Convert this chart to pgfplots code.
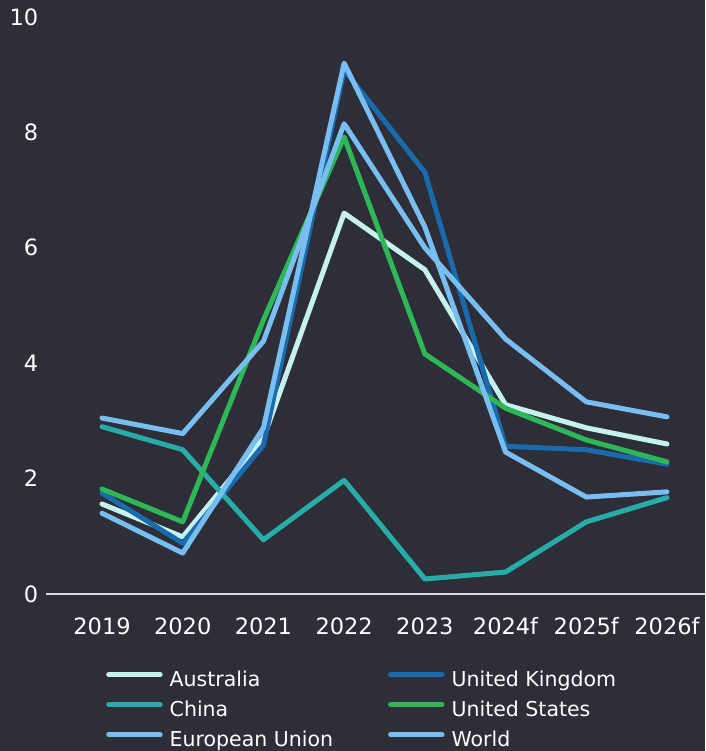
\documentclass[border=0pt]{standalone}
\usepackage{pgfplots}
\pgfplotsset{compat=1.18}
\usepackage{fontspec}
\setmainfont{DejaVu Sans}
\definecolor{bg}{HTML}{2E2E38}
\definecolor{aus}{HTML}{C6F2EE}
\definecolor{chn}{HTML}{27ACAA}
\definecolor{gbr}{HTML}{1A6AAE}
\definecolor{usa}{HTML}{2DB757}
\definecolor{eu}{HTML}{78BEF0}
\definecolor{wld}{HTML}{78BEF0}
\definecolor{axgray}{HTML}{D8D8D8}
\begin{document}
\begin{tikzpicture}[x=1pt,y=1pt]
\fill[bg] (-46,-157) rectangle (659,594);
\useasboundingbox (-46,-157) rectangle (659,594);
\begin{axis}[
  at={(0,0)}, anchor=south west,
  scale only axis, width=659pt, height=577pt,
  xmin=-0.694, xmax=7.471, ymin=0, ymax=10,
  axis x line=bottom, axis y line=left,
  y axis line style={draw=none},
  x axis line style={-, draw=axgray, line width=1.5pt},
  major tick length=0pt,
  xtick={0,...,7},
  xticklabels={2019,2020,2021,2022,2023,2024f,2025f,2026f},
  ytick={0,2,4,6,8,10},
  /pgf/number format/assume math mode=true,
  ticklabel style={font=\fontsize{22.5}{27}\selectfont, text=white},
  xticklabel style={anchor=north, inner sep=0pt, yshift=-23pt, text height=17pt, text depth=0pt},
  yticklabel style={anchor=east, inner sep=0pt, xshift=-7.5pt},
  clip=false,
  every axis plot/.append style={line width=5pt, line cap=round, line join=round},
  legend columns=2,
  legend cell align=left,
  legend image code/.code={\draw[#1, line width=5pt, line cap=round] (2.5pt,6pt) -- (54pt,6pt);},
  legend style={at={(axis description cs:0,0)}, anchor=north west, xshift=60pt, yshift=-76pt,
    draw=none, fill=none, text=white, font=\fontsize{20.5}{24}\selectfont,
    inner sep=0pt, row sep=9pt,
    nodes={inner sep=0pt, text height=16pt, text depth=5pt},
    /tikz/every odd column/.append style={column sep=7pt},
    /tikz/every even column/.append style={column sep=55pt}},
]
\addplot[aus] coordinates {(0,1.56)(1,0.99)(2,2.7)(3,6.6)(4,5.62)(5,3.28)(6,2.88)(7,2.6)};
\addlegendentry{Australia}
\addplot[gbr] coordinates {(0,1.75)(1,0.88)(2,2.58)(3,9.08)(4,7.31)(5,2.56)(6,2.5)(7,2.25)};
\addlegendentry{United Kingdom}
\addplot[chn] coordinates {(0,2.9)(1,2.5)(2,0.94)(3,1.97)(4,0.26)(5,0.38)(6,1.25)(7,1.67)};
\addlegendentry{China}
\addplot[usa] coordinates {(0,1.82)(1,1.25)(2,4.75)(3,7.92)(4,4.16)(5,3.22)(6,2.67)(7,2.29)};
\addlegendentry{United States}
\addplot[eu] coordinates {(0,1.4)(1,0.71)(2,2.88)(3,9.2)(4,6.36)(5,2.46)(6,1.68)(7,1.77)};
\addlegendentry{European Union}
\addplot[wld] coordinates {(0,3.05)(1,2.78)(2,4.38)(3,8.15)(4,6.0)(5,4.42)(6,3.33)(7,3.07)};
\addlegendentry{World}
\end{axis}
\end{tikzpicture}
\end{document}
